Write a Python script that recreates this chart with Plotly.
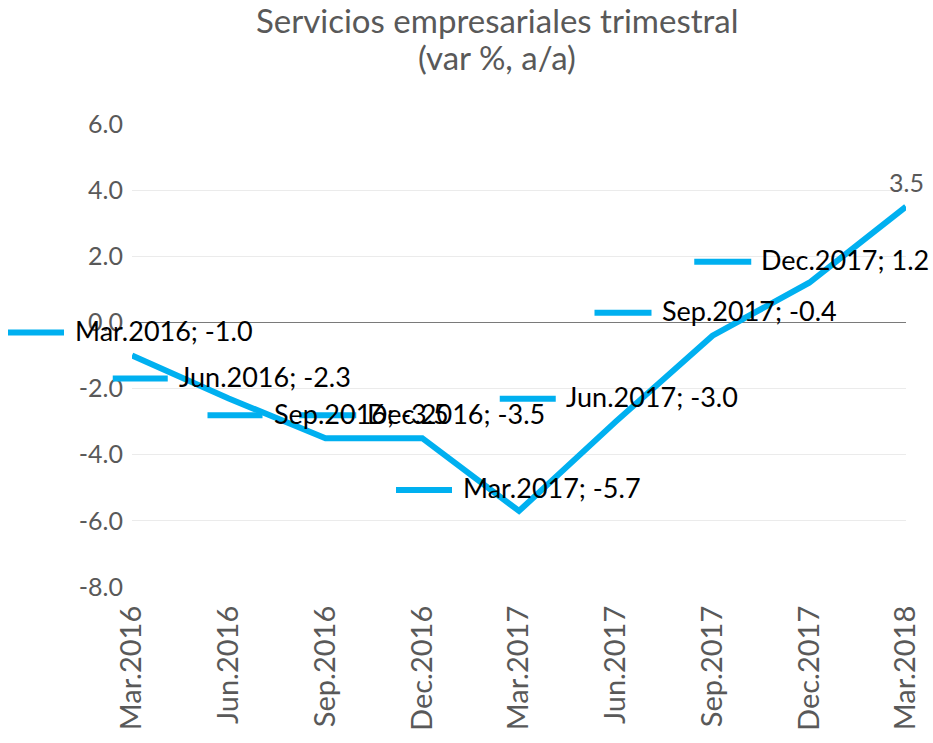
import plotly.graph_objects as go

categories = ["Mar.2016", "Jun.2016", "Sep.2016", "Dec.2016", "Mar.2017",
              "Jun.2017", "Sep.2017", "Dec.2017", "Mar.2018"]
values = [-1.0, -2.3, -3.5, -3.5, -5.7, -3.0, -0.4, 1.2, 3.5]
y_ticks = [6.0, 4.0, 2.0, 0.0, -2.0, -4.0, -6.0, -8.0]
title_lines = ["Servicios empresariales trimestral", "(var %, a/a)"]

Y_MIN, Y_MAX = -8, 6

# label placement offsets (pixels): key line start/end x, vertical offset, text start x
label_offsets = [
    (-124, -68, 23, -59),
    (-116, -61, 20, -52),
    (-118, -63, 23, -54),
    (-123, -66, 23, -57),
    (-123, -67, 21, -58),
    (-116, -60, 23, -52),
    (-118, -61, 23, -53),
    (-115, -58, 21, -50),
]

BLUE = "#00B0F0"
GRAY = "#595959"
FONT = "Lato"

W, H = 933, 743
M_L, M_R, M_T, M_B = 132, 25, 124, 154
plot_h = H - M_T - M_B
plot_w = W - M_L - M_R

fig = go.Figure()
fig.add_trace(go.Scatter(
    x=categories, y=values, mode="lines",
    line=dict(color=BLUE, width=6), cliponaxis=False,
    hoverinfo="skip", showlegend=False,
))

n_last = len(categories) - 1
annotations = []
shapes = []
for i, (cat, v) in enumerate(zip(categories, values)):
    if i < len(label_offsets):
        kx0, kx1, dy, tx = label_offsets[i]
        shapes.append(dict(
            type="line", xref="paper", yref="paper",
            xsizemode="pixel", ysizemode="pixel",
            xanchor=i / n_last, yanchor=(v - Y_MIN) / (Y_MAX - Y_MIN),
            x0=kx0, x1=kx1, y0=dy, y1=dy,
            line=dict(color=BLUE, width=6), layer="above",
        ))
        annotations.append(dict(
            x=i, y=v, xref="x", yref="y", showarrow=False,
            xanchor="left", yanchor="middle", xshift=tx, yshift=dy + 2,
            text=f"{cat}; {v:.1f}", font=dict(family=FONT, size=27, color="black"),
        ))
    else:
        annotations.append(dict(
            x=i, y=v, xref="x", yref="y", showarrow=False,
            xanchor="center", yanchor="middle", yshift=25,
            text=f"{v:.1f}", font=dict(family=FONT, size=25, color=GRAY),
        ))

# title lines (pixel centres 20 and 57 from top, centred near x=498)
for txt, py in zip(title_lines, [20, 57]):
    annotations.append(dict(
        x=(498 - M_L) / plot_w, y=(H - M_B - py) / plot_h,
        xref="paper", yref="paper", showarrow=False,
        xanchor="center", yanchor="middle", text=txt,
        font=dict(family=FONT, size=33, color=GRAY),
    ))

fig.update_layout(
    width=W, height=H,
    margin=dict(l=M_L, r=M_R, t=M_T, b=M_B),
    paper_bgcolor="white", plot_bgcolor="white",
    font=dict(family=FONT, color=GRAY),
    annotations=annotations, shapes=shapes,
    showlegend=False,
)
fig.update_xaxes(
    type="category", range=[0, n_last], showgrid=False, zeroline=False,
    showline=False, tickangle=-90, tickfont=dict(family=FONT, size=29, color=GRAY),
    ticks="", ticklabelstandoff=12,
)
fig.update_yaxes(
    range=[Y_MIN, Y_MAX], tickvals=y_ticks, ticktext=[f"{t:.1f}" for t in y_ticks],
    showgrid=True, gridcolor="#ebebeb", gridwidth=1,
    zeroline=True, zerolinecolor="#7a7a7a", zerolinewidth=1.3,
    showline=False, ticks="", tickfont=dict(family=FONT, size=25, color=GRAY),
    ticklabelstandoff=8,
)

fig.write_html("out.html", config={"displayModeBar": False},
               post_script="document.body.style.margin='0';")
